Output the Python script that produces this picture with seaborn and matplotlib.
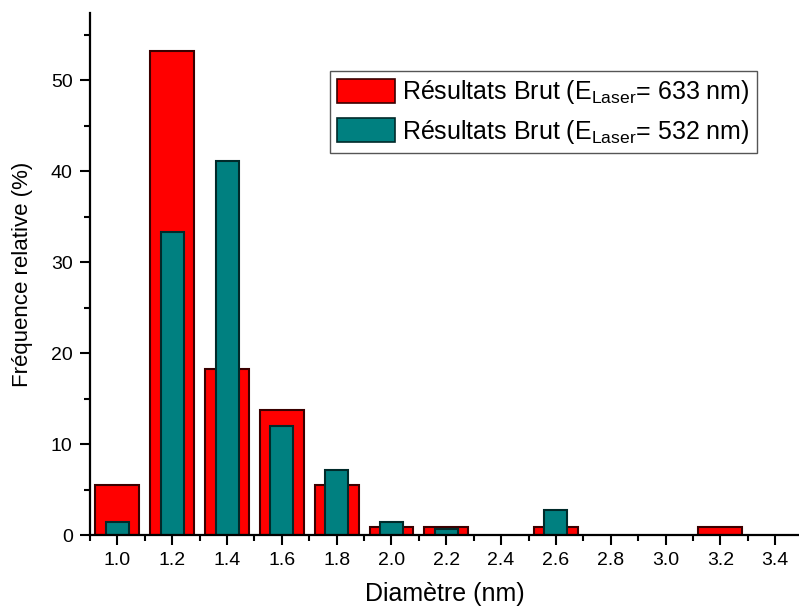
import numpy as np
import pandas as pd
import matplotlib
matplotlib.use("Agg")
import matplotlib.pyplot as plt
from matplotlib.patches import Patch
from matplotlib.ticker import MultipleLocator
import seaborn as sns

# Diameter classes (nm) and relative frequencies (%)
diam_633 = [1.0, 1.2, 1.4, 1.6, 1.8, 2.0, 2.2, 2.6, 3.2]
freq_633 = [5.5, 53.2, 18.3, 13.7, 5.5, 0.9, 0.9, 0.9, 0.9]

diam_532 = [1.0, 1.2, 1.4, 1.6, 1.8, 2.0, 2.2, 2.6]
freq_532 = [1.4, 33.3, 41.1, 12.0, 7.1, 1.4, 0.7, 2.8]

labels = [r"Résultats Brut (E$_{\mathrm{Laser}}$= 633 nm)",
          r"Résultats Brut (E$_{\mathrm{Laser}}$= 532 nm)"]

sns.set_style("ticks")
plt.rcParams["font.family"] = ["Liberation Sans", "DejaVu Sans"]
plt.rcParams["mathtext.fontset"] = "custom"
plt.rcParams["mathtext.rm"] = "Liberation Sans"
plt.rcParams["mathtext.it"] = "Liberation Sans:italic"
for key in ["text.color", "axes.labelcolor", "xtick.color", "ytick.color",
            "xtick.labelcolor", "ytick.labelcolor"]:
    plt.rcParams[key] = "black"

red_col, red_edge = "#ff0000", "#3a0000"
teal_col, teal_edge = "#008080", "#002a2a"

fig = plt.figure(figsize=(7.99, 6.12), dpi=100)
ax = fig.add_axes([90 / 799, 1 - 535 / 612, 1 - 90 / 799, (535 - 13) / 612])

df633 = pd.DataFrame({"d": diam_633, "f": freq_633})
df532 = pd.DataFrame({"d": diam_532, "f": freq_532})

sns.barplot(data=df633, x="d", y="f", native_scale=True, width=0.8,
            color=red_col, saturation=1, edgecolor=red_edge, linewidth=1.5,
            errorbar=None, ax=ax)
sns.barplot(data=df532, x="d", y="f", native_scale=True, width=0.42,
            color=teal_col, saturation=1, edgecolor=teal_edge, linewidth=1.5,
            errorbar=None, ax=ax)

ax.set_xlim(0.9, 3.487)
ax.set_ylim(0, 57.4)
ax.xaxis.set_major_locator(MultipleLocator(0.2))
ax.xaxis.set_minor_locator(MultipleLocator(0.1))
ax.yaxis.set_major_locator(MultipleLocator(10))
ax.yaxis.set_minor_locator(MultipleLocator(5))
ax.xaxis.set_major_formatter(matplotlib.ticker.FormatStrFormatter("%.1f"))

ax.tick_params(axis="both", which="major", direction="out", length=7.5,
               width=1.5, labelsize=14, color="black", labelcolor="black",
               pad=5)
ax.tick_params(axis="both", which="minor", direction="out", length=4,
               width=1.5, color="black")
for side in ["left", "bottom"]:
    ax.spines[side].set_linewidth(1.6)
    ax.spines[side].set_color("black")
ax.spines["top"].set_visible(False)
ax.spines["right"].set_visible(False)

ax.set_xlabel("Diamètre (nm)", fontsize=18, labelpad=9, color="black")
ax.set_ylabel("Fréquence relative (%)", fontsize=16, labelpad=13,
              color="black")

handles = [Patch(facecolor=red_col, edgecolor=red_edge, linewidth=1.2),
           Patch(facecolor=teal_col, edgecolor=teal_edge, linewidth=1.2)]
leg = ax.legend(handles, labels, loc="upper right",
                bbox_to_anchor=(0.941, 0.889), borderaxespad=0,
                fontsize=18, fancybox=False, framealpha=1,
                edgecolor="#555555", handlelength=2.3, handleheight=1.1,
                handletextpad=0.3, labelspacing=0.45, borderpad=0.3)
leg.get_frame().set_linewidth(1.0)
for t in leg.get_texts():
    t.set_color("black")

fig.savefig("out.png", dpi=100)
